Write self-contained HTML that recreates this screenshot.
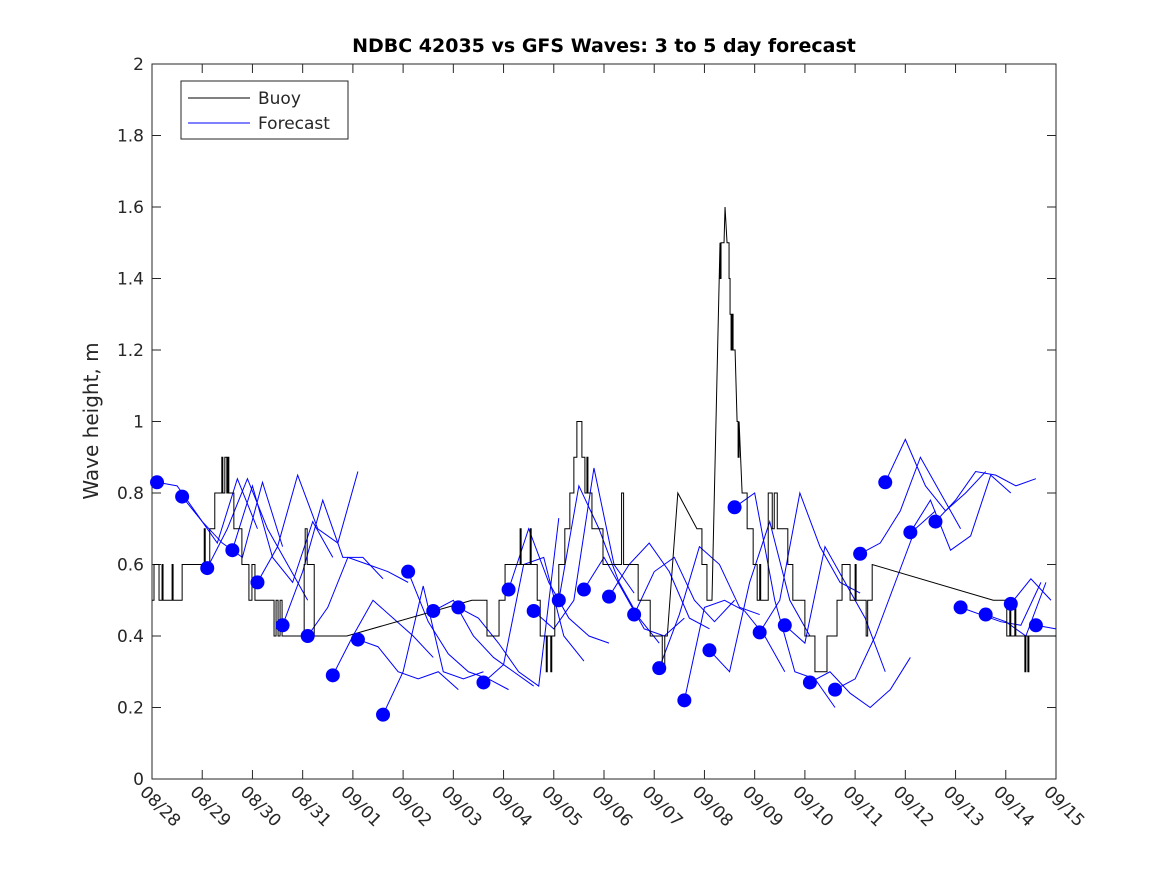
<!DOCTYPE html>
<html><head><meta charset="utf-8"><style>
body{margin:0;background:#fff;font-family:"DejaVu Sans","Liberation Sans",sans-serif}
svg text{font-family:"DejaVu Sans","Liberation Sans",sans-serif;fill:#262626}
</style></head><body>
<svg id="c" width="1167" height="875" viewBox="0 0 1167 875" xmlns="http://www.w3.org/2000/svg">
<rect width="1167" height="875" fill="#fff"/>
<text x="604" y="52" text-anchor="middle" font-size="19" font-weight="bold" style="fill:#000">NDBC 42035 vs GFS Waves: 3 to 5 day forecast</text>
<text transform="translate(98,421) rotate(-90)" text-anchor="middle" font-size="20">Wave height, m</text>
<g id="plot"></g>
</svg>
<script>
const xTickLabels=["08/28","08/29","08/30","08/31","09/01","09/02","09/03","09/04","09/05","09/06","09/07","09/08","09/09","09/10","09/11","09/12","09/13","09/14","09/15"];
const yTicks=[0,0.2,0.4,0.6,0.8,1,1.2,1.4,1.6,1.8,2];
const buoyPoints=[
[0,0.5],[0.04,0.5],[0.04,0.6],[0.14,0.6],[0.14,0.5],[0.2,0.5],[0.2,0.6],[0.22,0.6],[0.22,0.5],[0.4,0.5],[0.4,0.6],[0.42,0.6],[0.42,0.5],[0.6,0.5],[0.6,0.6],
[1.04,0.6],[1.04,0.7],[1.06,0.7],[1.06,0.6],[1.15,0.6],[1.15,0.7],[1.25,0.7],[1.25,0.8],[1.39,0.8],[1.39,0.9],[1.41,0.9],[1.41,0.8],[1.45,0.8],[1.45,0.9],[1.49,0.9],[1.49,0.8],[1.51,0.8],[1.51,0.9],[1.53,0.9],[1.53,0.8],[1.63,0.8],[1.63,0.7],[1.79,0.7],[1.79,0.6],[1.93,0.6],[1.93,0.5],[1.99,0.5],[1.99,0.6],[2.05,0.6],[2.05,0.5],
[2.43,0.5],[2.43,0.4],[2.47,0.4],[2.47,0.5],[2.51,0.5],[2.51,0.4],[2.55,0.4],[2.55,0.5],[2.59,0.5],[2.59,0.4],[3.03,0.4],[3.03,0.6],[3.05,0.6],[3.05,0.7],[3.09,0.7],[3.09,0.6],[3.23,0.6],[3.23,0.4],[3.88,0.4],
[6.37,0.5],[6.67,0.5],[6.67,0.4],[6.91,0.4],[6.91,0.5],[7.03,0.5],[7.03,0.6],[7.33,0.6],[7.33,0.7],[7.35,0.7],[7.35,0.6],[7.53,0.6],[7.53,0.7],[7.55,0.7],[7.55,0.6],[7.67,0.6],[7.67,0.5],[7.73,0.5],[7.73,0.4],[7.85,0.4],[7.85,0.3],[7.87,0.3],[7.87,0.4],[7.94,0.4],[7.94,0.3],[7.96,0.3],[7.96,0.4],
[8.02,0.4],[8.02,0.5],[8.1,0.5],[8.1,0.6],[8.22,0.6],[8.22,0.7],[8.32,0.7],[8.32,0.8],[8.4,0.8],[8.4,0.9],[8.46,0.9],[8.46,1.0],[8.56,1.0],[8.56,0.9],[8.62,0.9],[8.62,0.8],[8.66,0.8],[8.66,0.9],[8.68,0.9],[8.68,0.8],[8.76,0.8],[8.76,0.7],[8.98,0.7],[8.98,0.6],
[9.35,0.6],[9.35,0.8],[9.39,0.8],[9.39,0.6],[9.68,0.6],[9.68,0.5],[9.92,0.5],[9.92,0.4],[10.16,0.4],[10.16,0.3],[10.21,0.3],[10.21,0.4],[10.26,0.4],[10.47,0.8],[10.85,0.7],[10.95,0.7],[10.95,0.6],[11.05,0.6],[11.05,0.5],[11.15,0.5],
[11.31,1.5],[11.31,1.4],[11.33,1.4],[11.33,1.5],[11.39,1.5],[11.41,1.6],[11.45,1.5],[11.49,1.5],[11.49,1.4],[11.51,1.4],[11.51,1.3],[11.53,1.3],[11.53,1.2],[11.55,1.2],[11.55,1.3],[11.57,1.3],[11.57,1.2],[11.61,1.2],[11.65,1.0],[11.67,1.0],[11.67,0.9],[11.69,0.9],[11.69,1.0],[11.75,0.8],[11.85,0.8],[11.85,0.7],[11.97,0.7],[11.97,0.6],[12.05,0.6],[12.05,0.5],[12.1,0.5],[12.1,0.6],[12.12,0.6],[12.12,0.5],[12.27,0.5],[12.27,0.8],[12.35,0.8],[12.35,0.7],[12.39,0.7],[12.39,0.8],
[12.45,0.8],[12.45,0.7],[12.66,0.7],[12.66,0.6],[12.76,0.6],[12.76,0.5],[13.0,0.5],[13.0,0.4],[13.2,0.4],[13.2,0.3],[13.44,0.3],[13.44,0.4],[13.64,0.4],[13.64,0.5],[13.74,0.5],[13.74,0.6],[13.9,0.6],[13.9,0.5],[14.0,0.5],[14.0,0.6],[14.02,0.6],[14.02,0.5],[14.22,0.5],[14.22,0.4],[14.25,0.4],[14.25,0.5],[14.34,0.5],[14.34,0.6],
[16.75,0.5],[17.02,0.5],[17.02,0.4],[17.08,0.4],[17.08,0.5],[17.1,0.5],[17.1,0.4],[17.18,0.4],[17.18,0.5],[17.2,0.5],[17.2,0.4],[17.38,0.4],[17.38,0.3],[17.4,0.3],[17.4,0.4],[17.44,0.4],[17.44,0.3],[17.46,0.3],[17.46,0.4],[18,0.4]];
const obsDots=[0.83,0.79,0.59,0.64,0.55,0.43,0.40,0.29,0.39,0.18,0.58,0.47,0.48,0.27,0.53,0.47,0.50,0.53,0.51,0.46,0.31,0.22,0.36,0.76,0.41,0.43,0.27,0.25,0.63,0.83,0.69,0.72,0.48,0.46,0.49,0.43];
const forecasts=[
[.83,.82,.74,.66,.84,.70],[.79,.72,.66,.62,.83,.65],[.59,.70,.84,.70,.60,.50],[.64,.82,.62,.55,.72,.62],
[.55,.65,.85,.70,.66,.86],[.43,.58,.78,.62,.62,.56],[.40,.48,.62,.60,.58,.55],[.29,.40,.50,.45,.40,.34],
[.39,.37,.30,.28,.30,.25],[.18,.30,.54,.30,.28,.30],[.58,.44,.35,.30,.28,.25],[.47,.50,.40,.34,.30,.26],
[.48,.45,.38,.30,.26,.73],[.27,.32,.60,.62,.40,.33],[.53,.70,.55,.45,.40,.38],[.47,.42,.50,.87,.60,.52],
[.50,.82,.70,.55,.45,.38],[.53,.62,.52,.42,.40,.45],[.51,.60,.66,.58,.45,.42],[.46,.58,.62,.50,.44,.50],
[.31,.46,.65,.60,.48,.46],[.22,.48,.50,.47,.40,.30],[.36,.30,.55,.72,.50,.40],[.76,.80,.50,.30,.28,.20],
[.41,.50,.80,.65,.55,.52],[.43,.38,.65,.55,.45,.30],[.27,.30,.24,.20,.25,.34],[.25,.28,.40,.55,.70,.75],
[.63,.66,.75,.90,.80,.70],[.83,.95,.82,.75,.80,.86],[.69,.78,.64,.68,.85,.80],[.72,.78,.86,.85,.82,.84],
[.48,.46,.44,.43,.55,.60],[.46,.44,.40,.55,.60,.55],[.49,.56,.50,.44,.42,.45],[.43,.42,.48,.55,.60,.64]];
const NS="http://www.w3.org/2000/svg";
const L=152,R=1056,T=64,B=779;
const xs=d=>L+(R-L)*d/18, ys=v=>B-(B-T)*v/2;
const g=document.getElementById('plot');
function mk(t,a,p){const e=document.createElementNS(NS,t);for(const k in a)e.setAttribute(k,a[k]);(p||g).appendChild(e);return e;}
const frame=mk('rect',{x:L,y:T,width:R-L,height:B-T,fill:'none',stroke:'#262626','stroke-width':1});


yTicks.forEach(v=>{const y=ys(v);
mk('line',{x1:L,x2:L+9,y1:y,y2:y,stroke:'#262626'});mk('line',{x1:R,x2:R-9,y1:y,y2:y,stroke:'#262626'});
const t=mk('text',{x:L-8,y:y+6,'text-anchor':'end','font-size':17});t.textContent=String(v);

});
xTickLabels.forEach((s,i)=>{const x=xs(i);
mk('line',{x1:x,x2:x,y1:B,y2:B-9,stroke:'#262626'});mk('line',{x1:x,x2:x,y1:T,y2:T+9,stroke:'#262626'});
const t=mk('text',{x:0,y:0,'font-size':17,transform:`translate(${x-13},${B+14}) rotate(45)`});t.textContent=s;

});
forecasts.forEach((f,k)=>{const t0=0.1+0.5*k;const pts=[];
f.forEach((v,j)=>{const d=t0+0.4*j;if(d<=18)pts.push(xs(d)+','+ys(v));});
const p=mk('polyline',{points:pts.join(' '),fill:'none',stroke:'#0000ff','stroke-width':1});

});
const bp=mk('polyline',{points:buoyPoints.map(p=>xs(p[0])+','+ys(p[1])).join(' '),fill:'none',stroke:'#000','stroke-width':1});


obsDots.forEach((v,k)=>{const c=mk('circle',{cx:xs(0.1+0.5*k),cy:ys(v),r:7,fill:'#0000ff'});

});
const lg=mk('g',{});


mk('rect',{x:181,y:81,width:167,height:58,fill:'#fff',stroke:'#262626'},lg);
mk('line',{x1:188,x2:250,y1:98,y2:98,stroke:'#000'},lg);
mk('line',{x1:188,x2:250,y1:123,y2:123,stroke:'#0000ff'},lg);
const t1=mk('text',{x:258,y:104,'font-size':17},lg);t1.textContent='Buoy';


const t2=mk('text',{x:258,y:129,'font-size':17},lg);t2.textContent='Forecast';


</script>
</body></html>
